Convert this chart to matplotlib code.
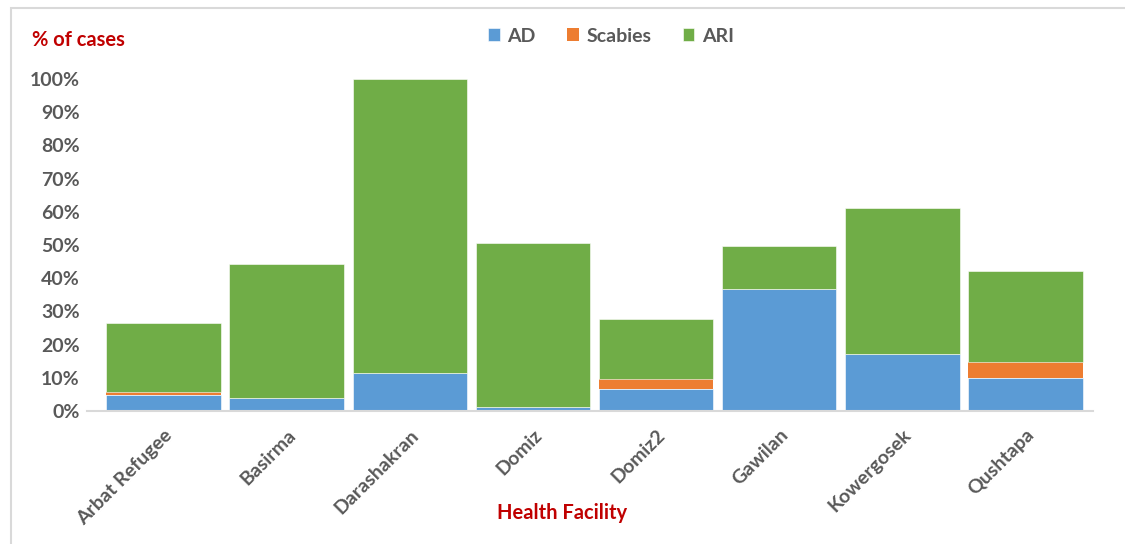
import numpy as np
import matplotlib
matplotlib.use('Agg')
from matplotlib import pyplot as plt
from matplotlib.patches import Rectangle

facilities = ['Arbat Refugee', 'Basirma', 'Darashakran', 'Domiz', 'Domiz2',
              'Gawilan', 'Kowergosek', 'Qushtapa']
# shares in percent of cases
ad = [4.9, 3.8, 11.4, 1.3, 6.6, 36.7, 17.2, 10.0]
scabies = [0.7, 0.0, 0.0, 0.0, 2.9, 0.0, 0.0, 4.8]
ari = [20.9, 40.4, 88.6, 49.3, 18.2, 13.0, 43.9, 27.4]

colors = {'AD': '#5B9BD5', 'Scabies': '#ED7D31', 'ARI': '#70AD47'}
grey = '#595959'
red = '#C00000'

plt.rcParams['font.family'] = ['Lato', 'DejaVu Sans']

fig = plt.figure(figsize=(11.25, 5.44), dpi=100)
fig.patches.append(Rectangle((11/1125, -0.01), 1.2, 1 - 8/544 + 0.01,
                             transform=fig.transFigure, fill=False,
                             edgecolor='#D9D9D9', linewidth=1.5))
ax = fig.add_axes([102/1125, 1 - 411/544, (1087 - 102)/1125, (411 - 79)/544])

x = np.arange(len(facilities))
ad_v = np.array(ad) / 100
sc_v = np.array(scabies) / 100
ari_v = np.array(ari) / 100
w = 0.93
ax.bar(x, ad_v, w, color=colors['AD'], edgecolor='white', linewidth=0.4, label='AD')
ax.bar(x, sc_v, w, bottom=ad_v, color=colors['Scabies'], edgecolor='white', linewidth=0.0, label='Scabies')
ax.bar(x, ari_v, w, bottom=ad_v + sc_v, color=colors['ARI'], edgecolor='white', linewidth=0.4, label='ARI')

ax.set_xlim(-0.5, len(facilities) - 0.5)
ax.set_ylim(0, 1.0)
ax.set_yticks(np.arange(0, 1.01, 0.1))
ax.set_yticklabels([f'{int(round(v * 100))}%' for v in np.arange(0, 1.01, 0.1)],
                   color=grey, fontsize=14, fontweight='bold')
ax.set_xticks(x)
ax.set_xticklabels(facilities, rotation=45, ha='right', rotation_mode='anchor',
                   color=grey, fontsize=14, fontweight='bold')
ax.tick_params(axis='both', length=0)
ax.tick_params(axis='y', pad=16)
ax.tick_params(axis='x', pad=11)
for s in ['top', 'right', 'left']:
    ax.spines[s].set_visible(False)
ax.spines['bottom'].set_color('#D9D9D9')
ax.spines['bottom'].set_linewidth(1.5)
ax.spines['bottom'].set_bounds(-0.62, len(facilities) - 0.45)

fig.text(32/1125, 1 - 40/544, '% of cases', color=red, fontsize=14.5,
         fontweight='bold', va='center', ha='left')
fig.text(562/1125, 1 - 513/544, 'Health Facility', color=red, fontsize=14.5,
         fontweight='bold', va='center', ha='center')

leg = fig.legend(loc='center', bbox_to_anchor=(611/1125, 1 - 36/544), ncol=3,
                 frameon=False, fontsize=14, handlelength=0.6, handleheight=0.6,
                 columnspacing=1.6, handletextpad=0.4)
for t in leg.get_texts():
    t.set_color(grey)
    t.set_fontweight('bold')

fig.savefig('out.png', dpi=100)
